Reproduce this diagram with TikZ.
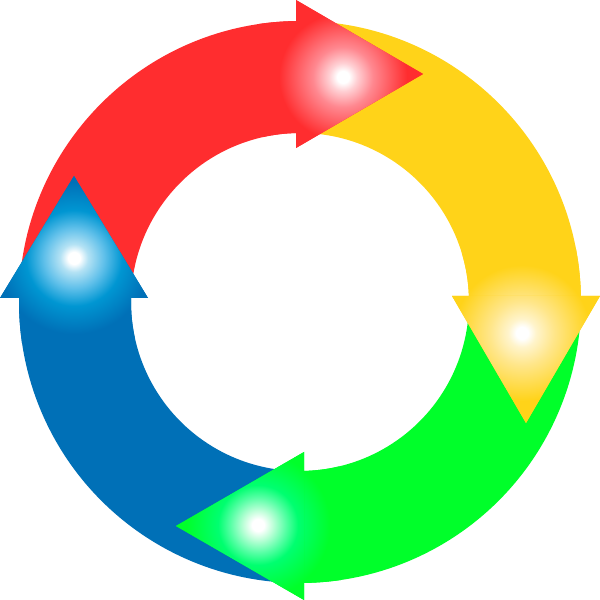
\documentclass[tikz,border=0pt]{standalone}
\usetikzlibrary{calc}
\definecolor{redbase}{HTML}{FF2D2F}
\definecolor{redpale}{HTML}{FFD0D4}
\definecolor{redtint}{HTML}{FF8890}
\definecolor{yelbase}{HTML}{FFD319}
\definecolor{yelpale}{HTML}{FFF4CC}
\definecolor{yeltint}{HTML}{FFE68A}
\definecolor{grnbase}{HTML}{00FF2A}
\definecolor{grnpale}{HTML}{C4FFDC}
\definecolor{grntint}{HTML}{55FFA4}
\definecolor{grnmid}{HTML}{00FF70}
\definecolor{blubase}{HTML}{0070B7}
\definecolor{blumid}{HTML}{0096D2}
\definecolor{blutint}{HTML}{60C0EA}
\definecolor{blupale}{HTML}{B4E2F4}
\pgfdeclareradialshading{glowred}{\pgfpoint{0bp}{0bp}}{color(0bp)=(white); color(1.5bp)=(white); color(3.5bp)=(redpale); color(7.5bp)=(redtint); color(16bp)=(redbase); color(25bp)=(redbase); color(50bp)=(redbase)}
\pgfdeclareradialshading{glowyel}{\pgfpoint{0bp}{0bp}}{color(0bp)=(white); color(1.5bp)=(white); color(3.5bp)=(yelpale); color(8bp)=(yeltint); color(17bp)=(yelbase); color(25bp)=(yelbase); color(50bp)=(yelbase)}
\pgfdeclareradialshading{glowgrn}{\pgfpoint{0bp}{0bp}}{color(0bp)=(white); color(1.5bp)=(white); color(3.5bp)=(grnpale); color(7bp)=(grntint); color(10bp)=(grnmid); color(18bp)=(grnbase); color(25bp)=(grnbase); color(50bp)=(grnbase)}
\pgfdeclareradialshading{glowblu}{\pgfpoint{0bp}{0bp}}{color(0bp)=(white); color(1.5bp)=(white); color(3.5bp)=(blupale); color(7.5bp)=(blutint); color(12bp)=(blumid); color(19bp)=(blubase); color(25bp)=(blubase); color(50bp)=(blubase)}
\newcommand\ringseg[4]{($(C)+(#1:281pt)$) arc[start angle=#1,end angle=#2,radius=281pt] -- ($(C)+(#3:169pt)$) arc[start angle=#3,end angle=#4,radius=169pt] -- cycle}
\begin{document}
\begin{tikzpicture}[x=1pt,y=1pt]
\fill[white] (0,0) rectangle (600,600);
\useasboundingbox (0,0) rectangle (600,600);
\coordinate (C) at (300,298);
% arrow heads
\coordinate (rA) at (296,600); \coordinate (rB) at (296,452); \coordinate (rT) at (423,526); \coordinate (rG) at (343,523);
\coordinate (yA) at (452,304); \coordinate (yB) at (600,304); \coordinate (yT) at (526,177); \coordinate (yG) at (522,267);
\coordinate (gA) at (304,148); \coordinate (gB) at (304,0);   \coordinate (gT) at (176,74);  \coordinate (gG) at (258,75);
\coordinate (bA) at (0,302);   \coordinate (bB) at (148,302); \coordinate (bT) at (74,424);  \coordinate (bG) at (74,342);
% bodies
\fill[redbase] \ringseg{179.185}{90.815}{91.356}{178.644};
\fill[yelbase] \ringseg{90.815}{1.223}{2.035}{91.356};
\fill[grnbase] \ringseg{1.223}{-89.185}{-88.644}{2.035};
\fill[blubase] \ringseg{-89.185}{-180.815}{-181.356}{-88.644};
% glow on bodies near heads
\begin{scope}\clip \ringseg{179.185}{90.815}{91.356}{178.644};
\shade[shading=glowred] (rG) circle (100pt);\end{scope}
\begin{scope}\clip \ringseg{90.815}{1.223}{2.035}{91.356};
\shade[shading=glowyel] (yG) circle (100pt);\end{scope}
\begin{scope}\clip \ringseg{1.223}{-89.185}{-88.644}{2.035};
\shade[shading=glowgrn] (gG) circle (100pt);\end{scope}
\begin{scope}\clip \ringseg{-89.185}{-180.815}{-181.356}{-88.644};
\shade[shading=glowblu] (bG) circle (100pt);\end{scope}
% heads
\fill[redbase] (rA) -- (rB) -- (rT) -- cycle;
\begin{scope}\clip (rA) -- (rB) -- (rT) -- cycle;
\shade[shading=glowred] (rG) circle (100pt);\end{scope}
\fill[yelbase] (yA) -- (yB) -- (yT) -- cycle;
\begin{scope}\clip (yA) -- (yB) -- (yT) -- cycle;
\shade[shading=glowyel] (yG) circle (100pt);\end{scope}
\fill[grnbase] (gA) -- (gB) -- (gT) -- cycle;
\begin{scope}\clip (gA) -- (gB) -- (gT) -- cycle;
\shade[shading=glowgrn] (gG) circle (100pt);\end{scope}
\fill[blubase] (bA) -- (bB) -- (bT) -- cycle;
\begin{scope}\clip (bA) -- (bB) -- (bT) -- cycle;
\shade[shading=glowblu] (bG) circle (100pt);\end{scope}
\end{tikzpicture}
\end{document}
